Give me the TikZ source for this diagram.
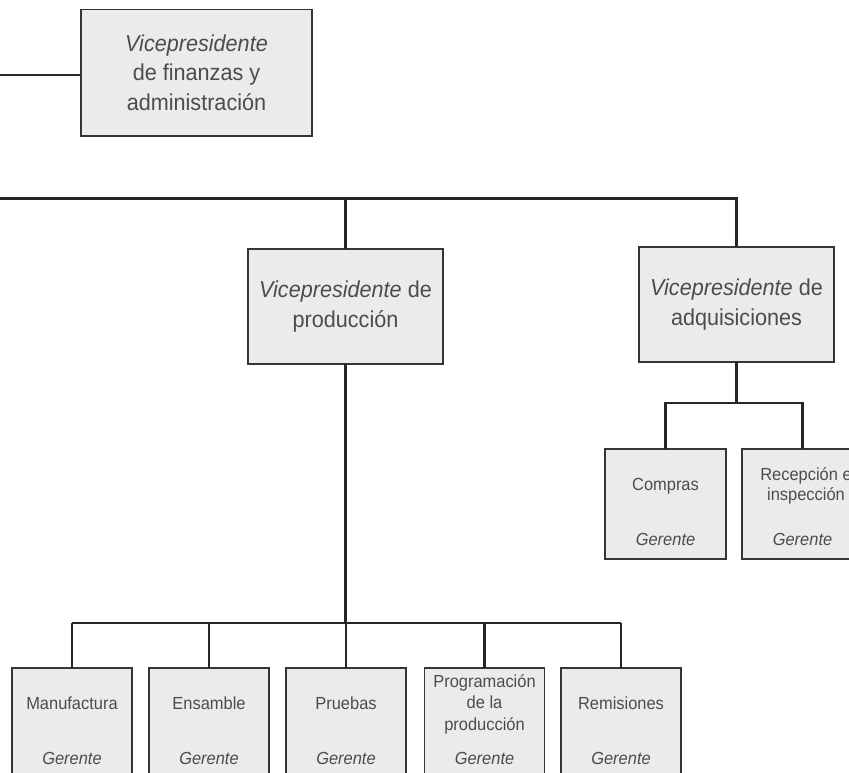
\documentclass[tikz,border=0pt]{standalone}
\usepackage{fontspec}
\setmainfont{Liberation Sans}[FakeStretch=0.94]
\definecolor{boxfill}{HTML}{EAEBEB}
\definecolor{boxline}{HTML}{353535}
\definecolor{txtc}{HTML}{4C4C4C}
\definecolor{connc}{HTML}{262626}
\tikzset{
  orgbox/.style={draw=boxline, line width=1.5pt, fill=boxfill, inner sep=0pt, outer sep=0pt},
  vpbox/.style={orgbox, minimum width=195pt, minimum height=115pt, text=txtc, align=center,
     font=\fontsize{23}{29.5}\selectfont},
  mgrbox/.style={orgbox, minimum width=121pt, minimum height=110pt},
  lbl/.style={text=txtc, align=center, inner sep=0pt, font=\fontsize{17.5}{21.5}\selectfont},
  mgr/.style={text=txtc, inner sep=0pt, font=\fontsize{17.5}{21}\selectfont\itshape},
  connline/.style={draw=connc, line width=2.5pt}
}
\begin{document}
\begin{tikzpicture}[x=1pt, y=-1pt]
\useasboundingbox (0,0) rectangle (849,773);
\clip (0,0) rectangle (849,773);
\fill[white] (0,0) rectangle (849,773);
% connectors
\coordinate (finl) at (0,75);
\coordinate (barl) at (0,198.5);
\coordinate (pbar) at (0,623);
\coordinate (abar) at (0,403);
% vice-presidents
\node[vpbox, minimum width=231pt, minimum height=126.5pt] (fin) at (196.5,72.75)
  {\textit{Vicepresidente}\\de finanzas y\\administración};
\node[vpbox] (prod) at (345.5,306.5) {\textit{Vicepresidente} de\\producción};
\node[vpbox] (adq) at (736.5,304.5) {\textit{Vicepresidente} de\\adquisiciones};
% purchasing managers
\node[mgrbox] (comp) at (665.5,504) {};
\node[mgrbox] (recep) at (802.5,504) {};
\node[lbl] (compn) at (665.5,486) {Compras};
\node[lbl, font=\fontsize{17.5}{19.5}\selectfont] (recepn) at (806,486) {Recepción e\\inspección};
\node[mgr] (compg) at (665.5,539) {Gerente};
\node[mgr] (recepg) at (802.5,539) {Gerente};
% production managers
\node[mgrbox, minimum width=120pt] (manu) at (72,723) {};
\node[mgrbox, minimum width=120pt] (ens) at (209,723) {};
\node[mgrbox, minimum width=120pt] (prue) at (346,723) {};
\node[mgrbox, minimum width=120pt] (prog) at (484.5,723) {};
\node[mgrbox, minimum width=120pt] (rem) at (621,723) {};
\node[lbl] (manun) at (72,703) {Manufactura};
\node[lbl] (ensn) at (209,703) {Ensamble};
\node[lbl] (pruen) at (346,703) {Pruebas};
\node[lbl] (progn) at (484.5,704) {Programación\\de la\\producción};
\node[lbl] (remn) at (621,703) {Remisiones};
\node[mgr] (manug) at (72,758) {Gerente};
\node[mgr] (ensg) at (209,758) {Gerente};
\node[mgr] (prueg) at (346,758) {Gerente};
\node[mgr] (progg) at (484.5,758) {Gerente};
\node[mgr] (remg) at (621,758) {Gerente};
% connector lines
\draw[connline] (finl) -- (finl -| fin.west);
\draw[connline] (barl) -| (adq.north);
\draw[connline] (barl -| prod.north) -- (prod.north);
\draw[connline] (prod.south) -- (pbar -| prod.south);
\draw[connline] (pbar -| manu.north) -- (pbar -| rem.north);
\foreach \b in {manu,ens,prue,prog,rem}{
  \draw[connline] (pbar -| \b.north) -- (\b.north);
}
\draw[connline] (adq.south) -- (abar -| adq.south);
\draw[connline] (comp.north) |- (abar -| adq.south) -| (recep.north);
\end{tikzpicture}
\end{document}
